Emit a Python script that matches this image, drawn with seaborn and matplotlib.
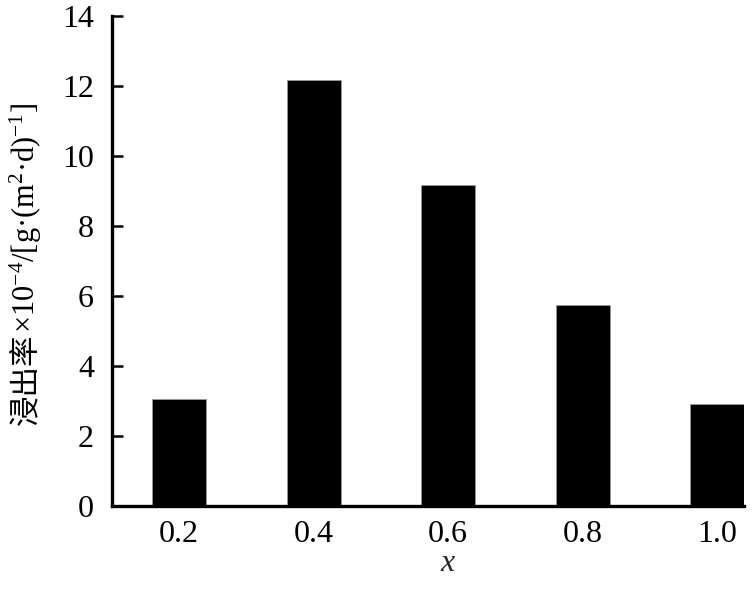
import seaborn as sns
import pandas as pd
import matplotlib.pyplot as plt
from matplotlib.ticker import FixedLocator

# leaching rate by x
x_labels = ['0.2', '0.4', '0.6', '0.8', '1.0']
rates = [3.06, 12.18, 9.16, 5.75, 2.91]

df = pd.DataFrame({'x': x_labels, 'rate': rates})

sns.set_style('white')
plt.rcParams['font.family'] = ['Liberation Serif', 'Noto Sans CJK SC', 'DejaVu Sans']
plt.rcParams['mathtext.fontset'] = 'custom'
plt.rcParams['mathtext.rm'] = 'Liberation Serif'
plt.rcParams['mathtext.it'] = 'Liberation Serif:italic'
plt.rcParams['text.color'] = 'black'
plt.rcParams['xtick.color'] = 'black'
plt.rcParams['ytick.color'] = 'black'

W, H = 756, 595
fig = plt.figure(figsize=(W / 100, H / 100), dpi=100)
ax = fig.add_axes([112 / W, 1 - 506 / H, (744 - 112) / W, (506 - 16) / H])

sns.barplot(data=df, x='x', y='rate', order=x_labels, color='black',
            width=0.4, edgecolor='#999999', linewidth=0.6, saturation=1, ax=ax)

ax.set_xlim(-0.5, 4.2)
ax.set_ylim(0, 14)
ax.set_yticks(range(0, 15, 2))

for side in ['top', 'right']:
    ax.spines[side].set_visible(False)
for side in ['left', 'bottom']:
    ax.spines[side].set_linewidth(2.4)
    ax.spines[side].set_color('black')

ax.xaxis.set_minor_locator(FixedLocator([0.5, 1.5, 2.5, 3.5]))
ax.tick_params(axis='x', which='major', length=0, pad=10, labelsize=23)
ax.tick_params(axis='x', which='minor', direction='in', length=7, width=1.8)
ax.tick_params(axis='y', direction='in', length=8, width=1.8, pad=13, labelsize=23, left=True)

ax.set_xlabel('x', fontsize=23, fontstyle='italic', labelpad=0)
ax.xaxis.label.set_x((448 - 112) / (744 - 112))
ax.set_ylabel('')

# y label: CJK part + serif part with superscripts
renderer = fig.canvas.get_renderer()
lab_font = 22
base_x = 35 / W
parts = [('浸出率', ['Noto Sans CJK SC']),
         (r'×10$^{-4}$/[g·(m$^{2}$·d)$^{-1}$]', ['Liberation Serif'])]
texts = []
for s, fam in parts:
    t = fig.text(base_x, 0, s, rotation=90, rotation_mode='anchor',
                 ha='left', va='baseline', fontsize=lab_font, family=fam)
    texts.append(t)
lengths = [t.get_window_extent(renderer).height for t in texts]
y0 = (H - 264) - sum(lengths) / 2
for t, L in zip(texts, lengths):
    t.set_y(y0 / H)
    y0 += L

fig.savefig('out.png', dpi=100)
